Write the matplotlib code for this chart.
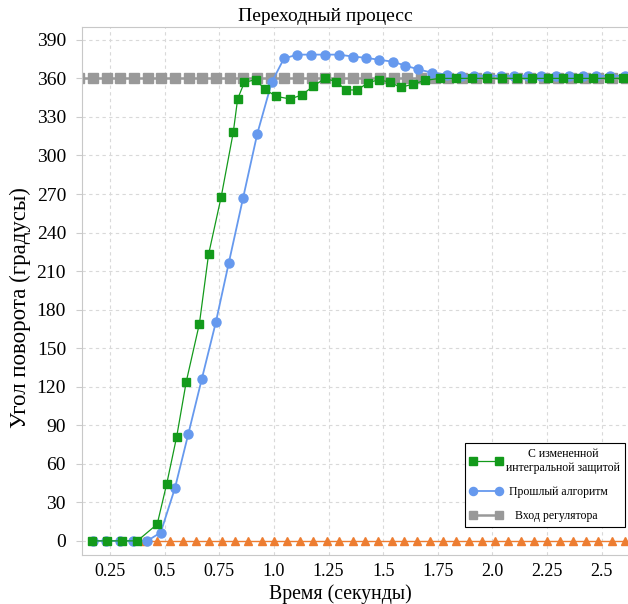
import numpy as np
from matplotlib import pyplot as plt

plt.rcParams['font.family'] = ['Liberation Serif', 'DejaVu Serif']

## time (s) and angle (deg) for each run
t_new = [0.166, 0.235, 0.303, 0.375, 0.466, 0.509, 0.555, 0.599, 0.659, 0.701,
         0.759, 0.814, 0.834, 0.865, 0.917, 0.959, 1.010, 1.074, 1.127, 1.180,
         1.234, 1.284, 1.330, 1.382, 1.429, 1.480, 1.531, 1.580, 1.635, 1.692,
         1.760, 1.833, 1.905, 1.974, 2.042, 2.111, 2.183, 2.253, 2.322, 2.393,
         2.462, 2.532, 2.599]
angle_new = [0, 0, 0, 0, 13, 44, 81, 124, 169, 223,
             268, 318, 344, 357, 359, 351.5, 346, 344, 347, 354,
             360, 357.5, 351, 351, 356.5, 359, 357, 353, 355.5, 358.5,
             360, 360, 360, 360, 360, 360, 360, 360, 360, 360,
             360, 360, 360]

t_old = [0.170, 0.232, 0.295, 0.357, 0.420, 0.482, 0.547, 0.608, 0.670, 0.734,
         0.793, 0.859, 0.924, 0.990, 1.046, 1.107, 1.170, 1.234, 1.297, 1.361,
         1.422, 1.480, 1.544, 1.600, 1.661, 1.722, 1.791, 1.855, 1.917, 1.974,
         2.038, 2.100, 2.162, 2.224, 2.290, 2.352, 2.413, 2.474, 2.538, 2.604]
angle_old = [0, 0, 0, 0, 0, 6.5, 41, 83, 126, 170,
             216, 267, 317, 357, 375.5, 378.5, 378.5, 378.5, 378.5, 377,
             376, 374.5, 373, 370, 367, 364.5, 363, 362, 362, 362,
             362, 362, 362, 362, 362, 362, 362, 362, 362, 362]

t_ref = [0.110, 0.173, 0.235, 0.298, 0.360, 0.423, 0.485, 0.548, 0.610, 0.673,
         0.735, 0.798, 0.860, 0.923, 0.985, 1.048, 1.110, 1.173, 1.235, 1.298,
         1.360, 1.423, 1.485, 1.548, 1.610, 1.673, 1.735, 1.798, 1.860, 1.923,
         1.985, 2.048, 2.110, 2.173, 2.235, 2.298, 2.360, 2.423, 2.485, 2.548,
         2.610]
angle_ref = [360, 360, 360, 360, 360, 360, 360, 360, 360, 360,
             360, 360, 360, 360, 360, 360, 360, 360, 360, 360,
             360, 360, 360, 360, 360, 360, 360, 360, 360, 360,
             360, 360, 360, 360, 360, 360, 360, 360, 360, 360,
             360]

t_err = [0.405, 0.466, 0.524, 0.585, 0.644, 0.704, 0.761, 0.822, 0.883, 0.944,
         1.000, 1.062, 1.120, 1.180, 1.241, 1.300, 1.360, 1.417, 1.478, 1.540,
         1.596, 1.656, 1.714, 1.775, 1.834, 1.894, 1.951, 2.012, 2.070, 2.130,
         2.190, 2.249, 2.310, 2.367, 2.428, 2.485, 2.545, 2.605]
angle_err = [0, 0, 0, 0, 0, 0, 0, 0, 0, 0,
             0, 0, 0, 0, 0, 0, 0, 0, 0, 0,
             0, 0, 0, 0, 0, 0, 0, 0, 0, 0,
             0, 0, 0, 0, 0, 0, 0, 0]

x_ticks = [0.25, 0.5, 0.75, 1.0, 1.25, 1.5, 1.75, 2.0, 2.25, 2.5]
x_labels = ['0.25', '0.5', '0.75', '1.0', '1.25', '1.5', '1.75', '2.0', '2.25', '2.5']
y_ticks = [0, 30, 60, 90, 120, 150, 180, 210, 240, 270, 300, 330, 360, 390]

fig = plt.figure(figsize=(6.28, 6.04), dpi=100)
ax = fig.add_axes([0.1306, 0.0811, 0.8694, 0.8742])

## plotting
ax.plot(t_ref, angle_ref, '-s', color='#999999', linewidth=1.8, markersize=6.5,
        label='   Вход регулятора', zorder=2)
ax.plot(t_err, angle_err, '-^', color='#ED7D31', linewidth=1.0, markersize=6,
        zorder=3)
ax.plot(t_old, angle_old, '-o', color='#6699EE', linewidth=1.3, markersize=6.5,
        label=' Прошлый алгоритм', zorder=4)
ax.plot(t_new, angle_new, '-s', color='#139A1B', linewidth=0.9, markersize=6,
        label='С измененной\nинтегральной защитой', zorder=5)

ax.set_xlim(0.122, 2.62)
ax.set_ylim(-11, 400)
ax.set_xticks(x_ticks)
ax.set_xticklabels(x_labels)
ax.set_yticks(y_ticks)
ax.tick_params(axis='x', length=0, labelsize=13, pad=6)
ax.tick_params(axis='y', length=4, color='#cccccc', labelsize=14, pad=7.5)

ax.grid(True, color='#d9d9d9', linestyle=(0, (3, 3)), linewidth=0.8)
ax.set_axisbelow(True)
for side in ['left', 'bottom', 'top']:
    ax.spines[side].set_color('#c8c8c8')
ax.spines['right'].set_visible(False)

ax.set_title('Переходный процесс', fontsize=14, x=0.445, pad=4)
ax.set_xlabel('Время (секунды)', fontsize=14.2)
ax.set_ylabel('Угол поворота (градусы)', fontsize=16.5)
ax.xaxis.set_label_coords(0.4725, -0.055)
ax.yaxis.set_label_coords(-0.093, 0.468)

handles, labels = ax.get_legend_handles_labels()
leg = ax.legend(handles[::-1], labels[::-1], loc='lower right',
                bbox_to_anchor=(0.9945, 0.053), borderaxespad=0,
                fontsize=8.5, numpoints=2, markerscale=0.9,
                handlelength=2.8, handletextpad=0.3, labelspacing=1.05,
                borderpad=0.4, fancybox=False, framealpha=1, edgecolor='black')
leg.get_frame().set_linewidth(0.8)
for txt in leg.get_texts():
    txt.set_multialignment('center')

fig.savefig('out.png', dpi=100)
